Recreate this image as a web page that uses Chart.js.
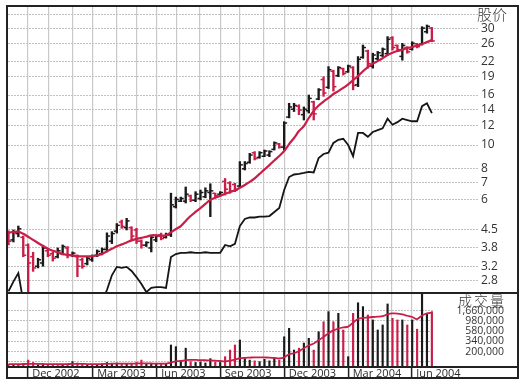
<!DOCTYPE html>
<html>
<head>
<meta charset="utf-8">
<script src="https://cdn.jsdelivr.net/npm/chart.js@4.4.1/dist/chart.umd.min.js"></script>
<style>
  body { margin: 0; background: #fff; }
  #wrap { position: relative; width: 527px; height: 386px; overflow: hidden; }
  #wrap canvas, .line, .label, #frame { position: absolute; }
  #frame { left: 6px; top: 5px; width: 513px; height: 374px; border: 2px solid #222; box-sizing: border-box; z-index: 2; }
  .line { background: #222; z-index: 2; }
  .label { font-family: "Noto Sans CJK SC", sans-serif; font-size: 15px; line-height: 15px; font-weight: 300; color: #3a3a3a; z-index: 3; }
</style>
</head>
<body>
<div id="wrap">
  <canvas id="priceChart" width="509" height="285" style="left:8px;top:7px"></canvas>
  <canvas id="volumeChart" width="509" height="83" style="left:8px;top:294px"></canvas>
  <div class="line" style="left:8px;top:292px;width:509px;height:2px"></div>
  <div class="line" style="left:8px;top:366px;width:509px;height:1.5px"></div>
  <div id="frame"></div>
  <div class="label" style="left:477px;top:6px">股价</div>
  <div class="label" style="left:458px;top:293px;font-size:14px;line-height:14px;letter-spacing:2px">成交量</div>
</div>
<script>
// weekly bars, x = week number (0 = first bar on the left)
const openP = [4.4, 4.1, 4.35, 4.2, 3.9, 3.5, 3.2, 3.3, 3.7, 3.6,
  3.5, 3.6, 3.8, 3.55, 3.5, 3.4, 3.28, 3.4, 3.55, 3.6,
  3.75, 4.05, 4.45, 4.85, 4.6, 4.6, 4.5, 4.05, 3.9, 3.8,
  4.1, 4.3, 4.2, 4.3, 5.6, 5.9, 5.9, 6.2, 5.95, 6.05,
  6.15, 6.4, 6.35, 6.3, 7.1, 7.0, 6.9, 6.8, 8.0, 8.5,
  9.3, 8.9, 9.0, 9.1, 9.6, 10.1, 9.8, 13.0, 14.0, 14.4,
  13.3, 13.8, 15.0, 15.4, 18.5, 17.2, 20.0, 19.2, 20.5, 19.9,
  20.7, 17.6, 22.8, 24.2, 21.0, 22.5, 23.2, 23.6, 27.4, 25.5,
  23.0, 25.0, 24.6, 25.9, 25.8, 29.0, 30.0];
const highP = [4.46, 4.5, 4.67, 4.25, 3.95, 3.65, 3.45, 3.9, 3.75, 3.66,
  3.8, 3.91, 3.85, 3.66, 3.56, 3.45, 3.5, 3.56, 3.73, 3.8,
  4.38, 4.43, 4.78, 4.94, 5.02, 4.64, 4.57, 4.1, 4.03, 4.23,
  4.3, 4.37, 4.37, 6.36, 6.13, 6.13, 6.74, 6.25, 6.45, 6.55,
  6.69, 6.95, 6.36, 6.45, 7.3, 7.09, 6.98, 8.56, 8.56, 9.25,
  9.4, 9.4, 9.54, 9.48, 10.3, 10.16, 12.45, 14.8, 14.8, 14.6,
  14.3, 16.0, 15.1, 17.0, 19.0, 20.9, 20.2, 20.9, 20.6, 21.2,
  20.9, 22.96, 25.6, 24.4, 23.7, 24.1, 24.9, 27.7, 27.7, 25.6,
  26.0, 25.2, 26.4, 26.0, 30.4, 30.9, 30.2];
const lowP = [3.91, 4.02, 4.22, 3.5, 2.4, 3.05, 3.15, 3.2, 3.5, 3.36,
  3.46, 3.56, 3.46, 3.5, 2.9, 3.14, 3.24, 3.35, 3.5, 3.56,
  3.66, 3.96, 4.37, 4.57, 4.5, 4.1, 3.96, 3.79, 3.85, 3.66,
  4.03, 4.1, 4.17, 4.23, 5.53, 5.87, 5.8, 5.87, 5.87, 5.97,
  6.09, 5.1, 6.15, 6.25, 6.25, 6.35, 6.45, 6.74, 7.91, 8.42,
  8.69, 8.83, 8.96, 8.96, 9.54, 9.7, 9.54, 12.9, 13.7, 13.3,
  12.65, 13.5, 12.65, 15.3, 15.8, 17.0, 16.6, 19.0, 19.3, 19.8,
  16.8, 17.3, 22.6, 20.6, 20.6, 22.2, 22.96, 23.3, 24.4, 24.1,
  22.2, 23.7, 24.4, 24.9, 25.6, 28.6, 26.4];
const closeP = [4.05, 4.4, 4.55, 3.55, 3.3, 3.15, 3.4, 3.8, 3.55, 3.45,
  3.7, 3.85, 3.55, 3.62, 3.2, 3.2, 3.45, 3.52, 3.68, 3.75,
  4.25, 4.35, 4.7, 4.65, 4.9, 4.25, 4.05, 3.9, 4.0, 4.2,
  4.25, 4.15, 4.3, 5.7, 6.0, 6.05, 6.3, 5.95, 6.3, 6.4,
  6.5, 6.5, 6.2, 6.4, 6.6, 6.5, 6.55, 8.3, 8.4, 9.1,
  8.8, 9.3, 9.45, 9.4, 10.2, 9.8, 12.3, 14.3, 14.5, 13.9,
  14.0, 15.5, 13.4, 16.8, 16.3, 20.3, 17.3, 20.7, 19.6, 21.0,
  17.5, 22.4, 25.0, 21.5, 23.3, 23.8, 24.6, 27.0, 25.0, 24.5,
  25.5, 24.0, 26.0, 25.2, 30.0, 30.5, 26.6];
const maPrice = [4.38, 4.42, 4.43, 4.34, 4.22, 4.10, 3.98, 3.87, 3.77, 3.70,
  3.65, 3.59, 3.56, 3.54, 3.52, 3.51, 3.51, 3.52, 3.54, 3.59,
  3.68, 3.77, 3.86, 3.93, 4.00, 4.08, 4.14, 4.18, 4.22, 4.28,
  4.28, 4.26, 4.28, 4.40, 4.54, 4.67, 4.90, 5.13, 5.33, 5.53,
  5.75, 5.97, 6.09, 6.20, 6.32, 6.43, 6.53, 6.69, 6.87, 7.07,
  7.31, 7.62, 7.95, 8.28, 8.65, 9.02, 9.45, 10.09, 10.68, 11.40,
  11.95, 12.89, 13.76, 14.49, 15.05, 15.56, 16.15, 16.6, 17.1, 17.7,
  18.4, 19.1, 20.0, 20.8, 21.5, 22.0, 22.6, 23.3, 23.8, 24.2,
  24.5, 24.9, 25.1, 25.5, 25.8, 26.3, 26.8];
// relative strength line, plotted on the price axis (values under 2.5 fall below the panel)
const relStrength = [2.53, 2.77, 3.0, 2.3, 2.3, 2.3, 2.3, 2.3, 2.3, 2.3,
  2.3, 2.3, 2.3, 2.3, 2.3, 2.3, 2.3, 2.3, 2.3, 2.3,
  2.56, 2.94, 3.18, 3.15, 3.18, 3.06, 2.89, 2.71, 2.51, 2.61,
  2.63, 2.63, 2.61, 3.49, 3.59, 3.63, 3.63, 3.65, 3.63, 3.63,
  3.65, 3.63, 3.63, 3.63, 3.91, 3.86, 3.95, 4.67, 4.99, 5.06,
  5.06, 5.1, 5.1, 5.13, 5.33, 5.53, 6.55, 7.4, 7.58, 7.62,
  7.69, 7.77, 7.73, 8.85, 9.19, 9.3, 10.2, 10.5, 10.6, 10.0,
  9.0, 11.2, 11.2, 10.8, 11.3, 11.5, 11.7, 12.8, 12.1, 12.4,
  12.8, 12.65, 12.5, 12.5, 14.4, 14.8, 13.5];
const volume = [105000, 100000, 98000, 110000, 130000, 115000, 102000, 108000, 100000, 104000,
  97000, 100000, 106000, 120000, 112000, 105000, 100000, 98000, 102000, 108000,
  115000, 110000, 112000, 105000, 110000, 108000, 115000, 130000, 110000, 105000,
  108000, 104000, 110000, 283000, 260000, 125000, 240000, 120000, 115000, 118000,
  112000, 140000, 118000, 115000, 155000, 218000, 283000, 366000, 140000, 130000,
  125000, 120000, 135000, 125000, 140000, 130000, 433000, 670000, 218000, 240000,
  313000, 400000, 218000, 560000, 940000, 1580000, 940000, 1450000, 614000, 155000,
  1450000, 2500000, 2050000, 1330000, 1030000, 614000, 796000, 2350000, 1120000, 1030000,
  1030000, 796000, 1030000, 640000, 5500000, 1450000, 1580000];
const maVolume = [106000, 106000, 105000, 106000, 107000, 107000, 107000, 106000, 106000, 106000,
  105000, 105000, 106000, 107000, 107000, 107000, 106000, 106000, 105000, 106000,
  107000, 108000, 108000, 108000, 108000, 108000, 109000, 110000, 110000, 109000,
  108000, 108000, 108000, 115000, 122000, 124000, 130000, 131000, 131000, 130000,
  129000, 128000, 126000, 124000, 122000, 126000, 134000, 143000, 146000, 148000,
  150000, 150000, 149000, 148000, 146000, 142000, 150000, 175000, 185000, 205000,
  240000, 275000, 305000, 360000, 430000, 520000, 600000, 660000, 700000, 730000,
  900000, 1080000, 1150000, 1170000, 1200000, 1220000, 1250000, 1380000, 1440000, 1430000,
  1370000, 1280000, 1200000, 1080000, 1300000, 1450000, 1500000];

const priceTicks = [2.8, 3.2, 3.8, 4.5, 6, 7, 8, 10, 12, 14, 16, 19, 22, 26, 30, 34];
const priceTickLabels = ["2.8", "3.2", "3.8", "4.5", "6", "7", "8", "10", "12", "14", "16", "19", "22", "26", "30", ""];
const volumeTicks = [118000, 200000, 340000, 580000, 980000, 1660000];
const volumeTickLabels = ["", "200,000", "340,000", "580,000", "980,000", "1,660,000"];
// first week of each month, in week numbers
const monthPos = [3.9, 8.1, 13, 17.1, 22, 26, 30.1, 34.2, 38.9, 43, 47, 51.8, 56, 60.6, 65, 69, 73.8, 77.8, 81.9];
const monthLabels = ["Dec 2002", "Jan 2003", "Feb 2003", "Mar 2003", "Apr 2003", "May 2003", "Jun 2003",
  "Jul 2003", "Aug 2003", "Sep 2003", "Oct 2003", "Nov 2003", "Dec 2003", "Jan 2004", "Feb 2004",
  "Mar 2004", "Apr 2004", "May 2004", "Jun 2004"];

const UP = "#1a1a1a";
const DOWN = "#c81e48";
const GRID_V = "#c9c9c9";
const GRID_H = "#c0c0c0";

Chart.defaults.font.family = "'Open Sans', sans-serif";
Chart.defaults.color = "#2a2a2a";

const barColor = closeP.map((c, i) => (c >= openP[i] ? UP : DOWN));
const isQuarter = (m) => /^(Dec|Mar|Jun|Sep)/.test(m);
const xy = (arr, shift) => arr.map((v, i) => ({ x: i + (shift || 0), y: v }));

function sizeAxis(prop, size) {
  return function (scale) {
    scale[prop] = size;
    scale.paddingTop = scale.paddingBottom = scale.paddingLeft = scale.paddingRight = 0;
  };
}
function setTicks(values) {
  return function (scale) {
    scale.ticks = values.map((v) => ({ value: v }));
  };
}

const common = {
  responsive: false,
  animation: false,
  events: [],
  devicePixelRatio: 1,
  layout: { autoPadding: false, padding: 0 },
  plugins: { legend: { display: false }, tooltip: { enabled: false } },
};

new Chart(document.getElementById("priceChart"), {
  type: "bar",
  data: {
    datasets: [
      {
        type: "line",
        data: xy(maPrice),
        borderColor: DOWN,
        borderWidth: 2.2,
        pointRadius: 0,
        tension: 0.3,
        order: 0,
      },
      {
        type: "bar",
        data: highP.map((h, i) => ({ x: i, y: [lowP[i], h] })),
        backgroundColor: barColor,
        barThickness: 1.7,
        order: 1,
      },
      {
        type: "line",
        data: xy(openP, -0.3),
        showLine: false,
        pointStyle: "line",
        pointRadius: 1.5,
        pointBorderWidth: 1.5,
        pointBorderColor: barColor,
        order: 1,
      },
      {
        type: "line",
        data: xy(closeP, 0.3),
        showLine: false,
        pointStyle: "line",
        pointRadius: 1.5,
        pointBorderWidth: 1.5,
        pointBorderColor: barColor,
        order: 1,
      },
      {
        type: "line",
        data: xy(relStrength),
        borderColor: "#151515",
        borderWidth: 1.8,
        pointRadius: 0,
        tension: 0,
        order: 2,
      },
    ],
  },
  options: {
    ...common,
    scales: {
      x: {
        type: "linear",
        min: -0.1,
        max: 95.37,
        offset: false,
        afterBuildTicks: setTicks(monthPos),
        afterFit: sizeAxis("height", 0),
        ticks: { display: false },
        grid: { color: GRID_V, lineWidth: 1.2, drawTicks: false, offset: false },
        border: { display: false },
      },
      y: {
        type: "logarithmic",
        position: "right",
        min: 2.512,
        max: 36.59,
        afterBuildTicks: setTicks(priceTicks),
        afterFit: sizeAxis("width", 39),
        ticks: {
          autoSkip: false,
          padding: 3,
          font: { size: 12 },
          color: "#333",
          callback: (v, i) => priceTickLabels[i],
        },
        grid: { color: GRID_H, lineWidth: 1, drawTicks: false },
        border: { display: false, dash: [2, 1] },
      },
    },
  },
});

new Chart(document.getElementById("volumeChart"), {
  type: "bar",
  data: {
    datasets: [
      {
        type: "line",
        data: xy(maVolume),
        borderColor: DOWN,
        borderWidth: 1.8,
        pointRadius: 0,
        tension: 0.3,
        order: 0,
      },
      {
        type: "bar",
        data: xy(volume),
        backgroundColor: barColor,
        barThickness: 1.5,
        order: 1,
      },
    ],
  },
  options: {
    ...common,
    layout: { autoPadding: false, padding: { left: 0, top: 0, bottom: 0, right: 13 } },
    scales: {
      x: {
        type: "linear",
        min: -0.1,
        max: 86.43,
        offset: false,
        afterBuildTicks: setTicks(monthPos),
        afterFit: sizeAxis("height", 10),
        ticks: {
          autoSkip: false,
          maxRotation: 0,
          align: "start",
          labelOffset: 4.5,
          padding: -10,
          font: { size: 11 },
          color: "#2a2a2a",
          callback: (v, i) => (isQuarter(monthLabels[i]) ? monthLabels[i] : ""),
        },
        grid: {
          color: GRID_V,
          lineWidth: 1.2,
          offset: false,
          drawTicks: true,
          tickLength: 10,
          tickWidth: 1.5,
          tickColor: (ctx) => (isQuarter(monthLabels[ctx.index] || "") ? "#222" : "rgba(0,0,0,0)"),
        },
        border: { display: false },
      },
      y: {
        type: "logarithmic",
        position: "right",
        min: 91000,
        max: 3930000,
        afterBuildTicks: setTicks(volumeTicks),
        afterFit: sizeAxis("width", 70),
        ticks: {
          autoSkip: false,
          crossAlign: "far",
          font: { size: 10.5 },
          color: "#333",
          callback: (v, i) => volumeTickLabels[i],
        },
        grid: { color: GRID_H, lineWidth: 1, drawTicks: false },
        border: { display: false, dash: [2, 1] },
      },
    },
  },
});
</script>
</body>
</html>
